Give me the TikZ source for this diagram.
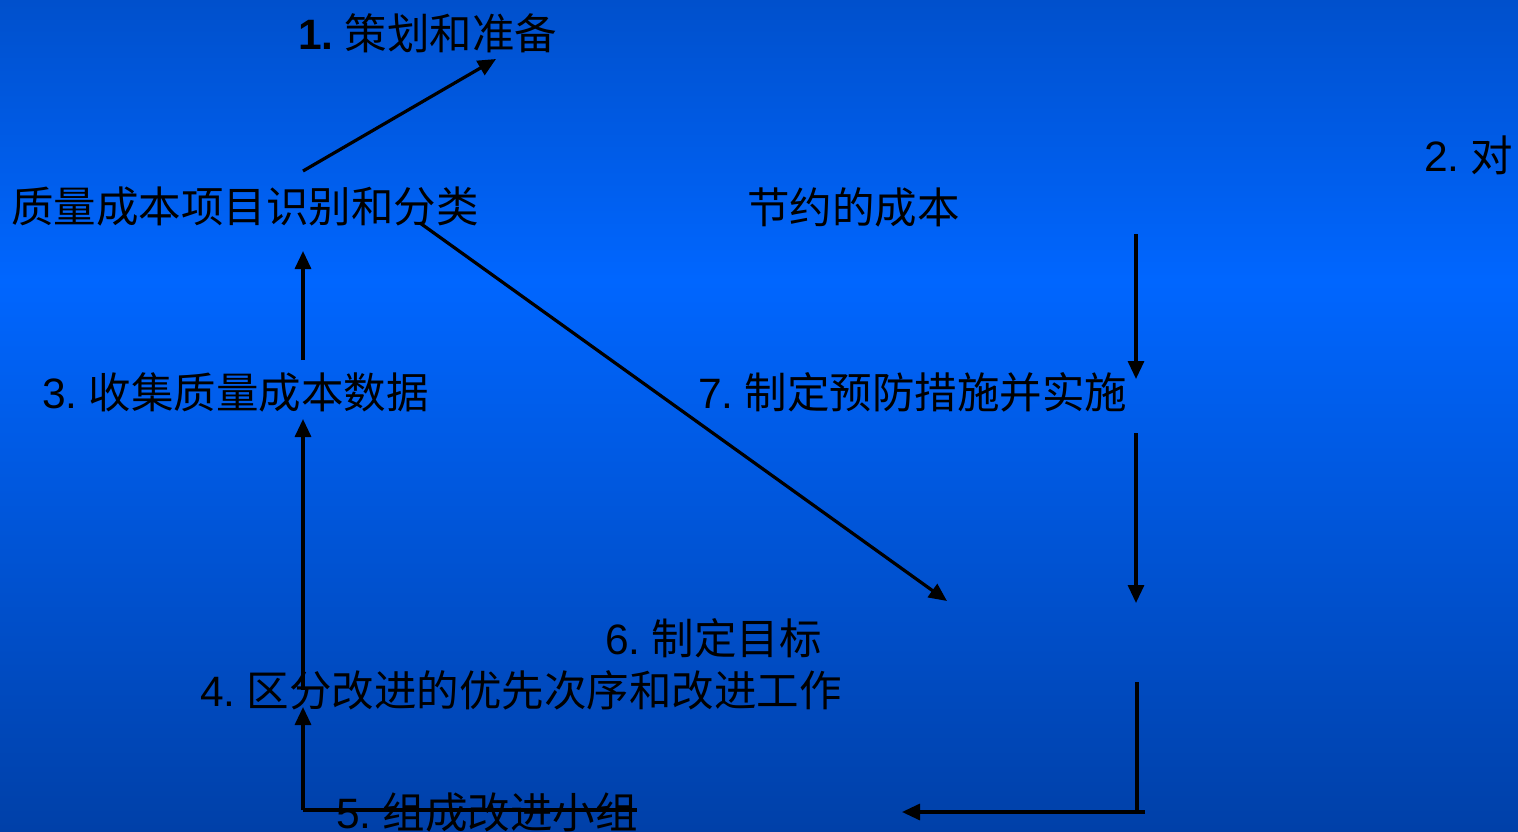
\documentclass[tikz,border=0pt]{standalone}
\usepackage{fontspec}
\setmainfont{Liberation Sans}
\newfontfamily\cjk{Noto Sans CJK SC}
\usetikzlibrary{arrows.meta}
\definecolor{topc}{RGB}{0,80,204}
\definecolor{midc}{RGB}{0,102,255}
\definecolor{botc}{RGB}{0,64,168}
\newcommand{\gp}{\hspace{0.26em}}
\tikzset{
  lbl/.style={anchor=west, inner sep=0pt, text=black, font=\fontsize{42.5}{50}\selectfont},
  conn/.style={draw=black, line width=3.2pt},
  arr/.style={conn, -{Triangle[length=18pt,width=16pt]}}
}
\begin{document}
\begin{tikzpicture}[x=1pt,y=-1pt]
\shade[top color=topc, bottom color=midc] (0,0) rectangle (1518,281);
\shade[top color=midc, bottom color=botc] (0,280) rectangle (1518,832);
\useasboundingbox (0,0) rectangle (1518,832);

\node[lbl] (t1) at (298,33) {\textbf{1.}\gp\cjk 策划和准备};
\node[lbl] (t2) at (1424,155) {2.\gp\cjk 对};
\node[lbl] (tq) at (11,207) {\cjk 质量成本项目识别和分类};
\node[lbl] (tj) at (747,207) {\cjk 节约的成本};
\node[lbl] (t3) at (42,392) {3.\gp\cjk 收集质量成本数据};
\node[lbl] (t7) at (698,392) {7.\gp\cjk 制定预防措施并实施};
\node[lbl] (t6) at (605,638) {6.\gp\cjk 制定目标};
\node[lbl] (t4) at (200,690) {4.\gp\cjk 区分改进的优先次序和改进工作};
\node[lbl] (t5) at (336,812) {5.\gp\cjk 组成改进小组};

% connector points
\coordinate (a1s) at (303,171);
\coordinate (a1e) at (496,59);
\coordinate (a2s) at (303,360);
\coordinate (a2e) at (303,251);
\coordinate (a3s) at (303,690);
\coordinate (a3e) at (303,419);
\coordinate (a4s) at (303,810);
\coordinate (a4e) at (303,707);
\coordinate (a5e) at (637,810);
\coordinate (d1s) at (420,223);
\coordinate (d1e) at (947,601);
\coordinate (r1s) at (1136,234);
\coordinate (r1e) at (1136,379);
\coordinate (r2s) at (1136,433);
\coordinate (r2e) at (1136,603);
\coordinate (r3s) at (1137,682);
\coordinate (r3c) at (1137,812);
\coordinate (r3r) at (1145,812);
\coordinate (r3e) at (902,812);

\draw[arr] (a1s) -- (a1e);
\draw[arr] (a2s) -- (a2e);
\draw[arr] (a3s) -- (a3e);
\draw[arr] (a4s) -- (a4e);
\draw[conn] (a4s) -- (a5e);
\draw[arr] (d1s) -- (d1e);
\draw[arr] (r1s) -- (r1e);
\draw[arr] (r2s) -- (r2e);
\draw[conn] (r3s) -- (r3c);
\draw[arr] (r3r) -- (r3e);
\end{tikzpicture}
\end{document}
